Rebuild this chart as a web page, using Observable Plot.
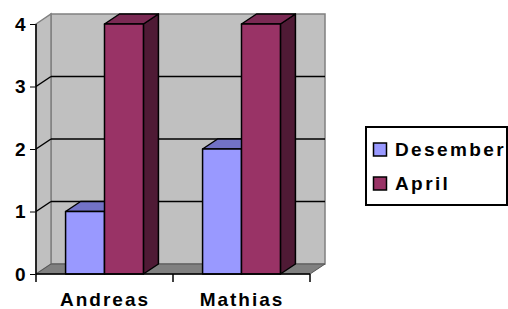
<!DOCTYPE html>
<html>
<head>
<meta charset="utf-8">
<script src="https://cdn.jsdelivr.net/npm/d3@7"></script>
<script src="https://cdn.jsdelivr.net/npm/@observablehq/plot@0.6"></script>
<style>
  html, body { margin: 0; padding: 0; background: #fff; }
  #wrap { position: relative; width: 508px; height: 309px; overflow: hidden; }
  #wrap svg { position: absolute; }
</style>
</head>
<body>
<div id="wrap"></div>
<script>
// ---- data ----
const names = ["Andreas", "Mathias"];
const series = ["Desember", "April"];
const desember = [1, 2];
const april = [4, 4];
const yTicks = [0, 1, 2, 3, 4];
const frontColors = ["#9999FF", "#993366"];
const topColors = ["#7272C6", "#7B2A54"];
const sideColors = ["#5A5AA6", "#4F1A35"];

const values = {Desember: desember, April: april};
const rows = [];
names.forEach((n, i) => series.forEach((s, j) => rows.push({name: n, series: s, value: values[s][i], si: j})));

const DX = 15, DY = -10;
const NS = "http://www.w3.org/2000/svg";
function el(tag, attrs) {
  const e = document.createElementNS(NS, tag);
  for (const k in attrs) e.setAttribute(k, attrs[k]);
  return e;
}
function poly(g, pts, attrs) {
  g.appendChild(el("polygon", Object.assign({points: pts.map(p => p.join(",")).join(" ")}, attrs)));
}
function line(g, a, b, attrs) {
  g.appendChild(el("line", Object.assign({x1: a[0], y1: a[1], x2: b[0], y2: b[1]}, attrs)));
}

function scene(index, scales) {
  const x = scales.x, y = scales.y;
  const bw = typeof x.bandwidth === "function" ? x.bandwidth() : (x(names[1]) - x(names[0]));
  const x0 = x(names[0]);
  const x1 = x(names[names.length - 1]) + bw;
  const ymax = d3.max(yTicks);
  const y0 = y(0), yT = y(ymax);
  const g = el("g", {});
  // back wall
  poly(g, [[x0 + DX, yT + DY], [x1 + DX, yT + DY], [x1 + DX, y0 + DY], [x0 + DX, y0 + DY]],
       {fill: "#C0C0C0", stroke: "#808080", "stroke-width": 1.5});
  // left wall
  poly(g, [[x0, yT], [x0 + DX, yT + DY], [x0 + DX, y0 + DY], [x0, y0]],
       {fill: "#C0C0C0", stroke: "#808080", "stroke-width": 1.5});
  // floor
  poly(g, [[x0, y0], [x0 + DX, y0 + DY], [x1 + DX, y0 + DY], [x1, y0]],
       {fill: "#808080", stroke: "#555", "stroke-width": 1});
  // grid lines
  yTicks.filter(t => t > 0 && t < ymax).forEach(t => {
    line(g, [x0 + DX, y(t) + DY], [x1 + DX, y(t) + DY], {stroke: "#000", "stroke-width": 1.5});
    line(g, [x0, y(t)], [x0 + DX, y(t) + DY], {stroke: "#000", "stroke-width": 1.5});
  });
  // bars
  const sub = d3.scaleBand().domain(series).range([0, bw]).paddingInner(0).paddingOuter(0.76);
  const w = sub.bandwidth();
  rows.forEach(r => {
    const bx = x(r.name) + sub(r.series);
    const yt = y(r.value), yb = y(0);
    const st = {stroke: "#000", "stroke-width": 1.5, "stroke-linejoin": "round"};
    poly(g, [[bx + w, yt], [bx + w + DX, yt + DY], [bx + w + DX, yb + DY], [bx + w, yb]], Object.assign({fill: sideColors[r.si]}, st));
    poly(g, [[bx, yt], [bx + DX, yt + DY], [bx + w + DX, yt + DY], [bx + w, yt]], Object.assign({fill: topColors[r.si]}, st));
    poly(g, [[bx, yt], [bx + w, yt], [bx + w, yb], [bx, yb]], Object.assign({fill: frontColors[r.si]}, st));
  });
  // axis lines and category boundary ticks
  line(g, [x0, yT], [x0, y0], {stroke: "#000", "stroke-width": 1.5});
  line(g, [x0, y0], [x1, y0], {stroke: "#000", "stroke-width": 1.5});
  names.forEach((n, i) => line(g, [x(n), y0], [x(n), y0 + 8], {stroke: "#000", "stroke-width": 1.5}));
  line(g, [x1, y0], [x1, y0 + 8], {stroke: "#000", "stroke-width": 1.5});
  return g;
}

const chart = Plot.plot({
  width: 508,
  height: 309,
  marginLeft: 36,
  marginRight: 198,
  marginTop: 24,
  marginBottom: 35,
  style: {fontFamily: "'Liberation Sans', Arial, sans-serif", fontSize: "19px", fontWeight: "bold", color: "#000", background: "transparent", letterSpacing: "2px"},
  x: {type: "band", domain: names, padding: 0, tickSize: 0, tickPadding: 18, label: null},
  y: {domain: [0, 4], ticks: yTicks, tickFormat: d => String(d), tickSize: 6, tickPadding: 3, label: null},
  marks: [
    scene,
    Plot.ruleY([0], {strokeOpacity: 0})
  ]
});
const wrap = document.getElementById("wrap");
chart.style.left = "0px"; chart.style.top = "0px";
wrap.appendChild(chart);

// legend
const lg = d3.select(wrap).append("svg")
  .attr("width", 143).attr("height", 81)
  .style("left", "365px").style("top", "126px");
lg.append("rect").attr("x", 1).attr("y", 1).attr("width", 141).attr("height", 78)
  .attr("fill", "#fff").attr("stroke", "#000").attr("stroke-width", 2);
series.forEach((s, i) => {
  const gy = 17 + i * 34;
  lg.append("rect").attr("x", 8.5).attr("y", gy).attr("width", 13).attr("height", 13)
    .attr("fill", frontColors[i]).attr("stroke", "#000").attr("stroke-width", 1.5);
  lg.append("text").attr("x", 30).attr("y", gy + 13)
    .attr("font-family", "'Liberation Sans', Arial, sans-serif").attr("font-size", 19)
    .attr("font-weight", "bold").attr("letter-spacing", "2.4px").text(s);
});
</script>
</body>
</html>
